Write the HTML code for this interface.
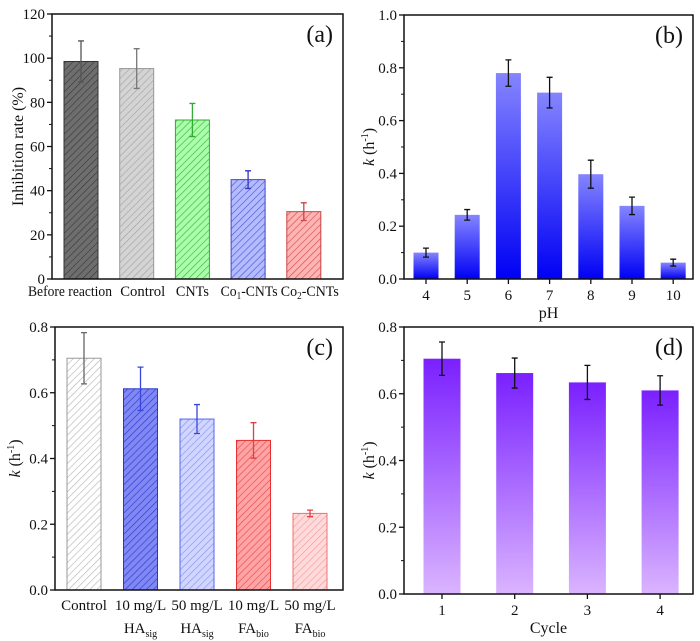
<!DOCTYPE html>
<html><head><meta charset="utf-8"><style>
body{margin:0;background:#fff;}
svg{display:block;}
svg text{font-family:"Liberation Serif","Times New Roman",serif;}
</style></head><body>
<svg id="fig" width="700" height="641" viewBox="0 0 700 641" font-family="Liberation Serif, serif">
<defs>
<linearGradient id="gb" x1="0" y1="0" x2="0" y2="1"><stop offset="0" stop-color="#8585ff"/><stop offset="1" stop-color="#0000f5"/></linearGradient>
<linearGradient id="gd" x1="0" y1="0" x2="0" y2="1"><stop offset="0" stop-color="#7a20ff"/><stop offset="1" stop-color="#dab4ff"/></linearGradient>
</defs>
</svg>
<script>
// Panel a
const aCats=["Before reaction","Control","CNTs","Co1-CNTs","Co2-CNTs"];
const aVals=[98.5,95.3,72,45,30.5];
const aErr=[9.3,9,7.5,4,4];
const aTicks=[0,20,40,60,80,100,120];
// Panel b
const bCats=["4","5","6","7","8","9","10"];
const bVals=[0.1,0.243,0.78,0.706,0.397,0.277,0.062];
const bErr=[0.017,0.02,0.05,0.058,0.053,0.033,0.013];
const bTicks=[0,0.2,0.4,0.6,0.8,1.0];
// Panel c
const cCats=["Control","10 mg/L|HA|sig","50 mg/L|HA|sig","10 mg/L|FA|bio","50 mg/L|FA|bio"];
const cVals=[0.705,0.612,0.52,0.455,0.233];
const cErr=[0.078,0.066,0.044,0.054,0.01];
const cTicks=[0,0.2,0.4,0.6,0.8];
// Panel d
const dCats=["1","2","3","4"];
const dVals=[0.705,0.662,0.634,0.61];
const dErr=[0.05,0.045,0.051,0.044];
const dTicks=[0,0.2,0.4,0.6,0.8];

const svg=document.getElementById('fig');
const NS="http://www.w3.org/2000/svg";
function mk(tag,attrs,parent){const e=document.createElementNS(NS,tag);for(const k in attrs)e.setAttribute(k,attrs[k]);(parent||svg).appendChild(e);return e;}
const defs=svg.querySelector('defs');
function hatch(id,bg,fg){const p=mk('pattern',{id:id,patternUnits:'userSpaceOnUse',width:5,height:5,patternTransform:'rotate(45)'},defs);mk('rect',{x:0,y:0,width:5,height:5,fill:bg},p);mk('line',{x1:0,y1:0,x2:0,y2:5,stroke:fg,'stroke-width':1.3},p);}
hatch('ha0','#6e6e6e','#3a3a3a');hatch('ha1','#d4d4d4','#a4a4a4');hatch('ha2','#aaffaa','#44b044');hatch('ha3','#b4bcff','#4a58d0');hatch('ha4','#ffb4b4','#d05050');
hatch('hc0','#ffffff','#b8b8b8');hatch('hc1','#8088f4','#3038d0');hatch('hc2','#d0d6ff','#8a94f0');hatch('hc3','#ffa4a4','#e44c4c');hatch('hc4','#ffdada','#f29a9a');

function panel(o){
  const g=mk('g',{});
  
  
  const {L,T,R,B,ymax}=o;
  const y=v=>B-(v/ymax)*(B-T);
  const x=i=>o.x0+i*o.dx;
  o.vals.forEach((v,i)=>{
    const r=mk('rect',{x:x(i)-o.bw/2,y:y(v),width:o.bw,height:B-y(v),fill:o.fill(i),stroke:o.stroke?o.stroke(i):'none','stroke-width':1},g);
    
    
    const ec=o.ecol?o.ecol(i):'#111';
    const e1=y(v+o.err[i]),e2=y(v-o.err[i]);
    const eb=mk('path',{d:`M${x(i)},${e1}V${e2}M${x(i)-3},${e1}H${x(i)+3}M${x(i)-3},${e2}H${x(i)+3}`,stroke:ec,'stroke-width':1.3,fill:'none'},g);
    
    
  });
  const f=mk('rect',{x:L,y:T,width:R-L,height:B-T,fill:'none',stroke:'#111','stroke-width':1.5},g);
  
  
  o.ticks.forEach((t,k)=>{
    mk('line',{x1:L-5,x2:L,y1:y(t),y2:y(t),stroke:'#111','stroke-width':1.3},g);
    if(k<o.ticks.length-1){const m=(t+o.ticks[k+1])/2;mk('line',{x1:L-3,x2:L,y1:y(m),y2:y(m),stroke:'#111','stroke-width':1},g);}
    const tx=mk('text',{x:L-7,y:y(t)+5,'text-anchor':'end','font-size':15,fill:'#111'},g);
    tx.textContent=o.fmt(t);
    
    
  });
  o.cats.forEach((c,i)=>{
    if(o.xticks) mk('line',{x1:x(i),x2:x(i),y1:B,y2:B+5,stroke:'#111','stroke-width':1.3},g);
    const parts=c.split('|');
    const off=o.lblOff?o.lblOff[i]:0;
    const at={x:x(i)+off,y:B+o.lblDy,'text-anchor':'middle','font-size':o.xfs||15,fill:'#111'};
    if(o.lblW){at.textLength=o.lblW[i];at.lengthAdjust='spacingAndGlyphs';}
    const tx=mk('text',at,g);
    
    
    if(parts.length===1){
      const m=c.match(/^Co(\d)-(.*)$/);
      if(m){tx.textContent='Co';const s=mk('tspan',{'font-size':10,dy:3},tx);s.textContent=m[1];const r=mk('tspan',{dy:-3},tx);r.textContent='-'+m[2];}
      else tx.textContent=c;
    } else {
      tx.textContent=parts[0];
      const t2=mk('text',{x:x(i),y:B+o.lblDy+23,'text-anchor':'middle','font-size':15,fill:'#111'},g);
      
      
      t2.textContent=parts[1];const s=mk('tspan',{'font-size':10,dy:4},t2);s.textContent=parts[2];
    }
  });
  const yt=mk('text',{transform:`translate(${o.ytx},${(T+B)/2}) rotate(-90)`,'text-anchor':'middle','font-size':16,fill:'#111'},g);
  
  
  if(o.ytitle){yt.textContent=o.ytitle;}
  else{const k=mk('tspan',{'font-style':'italic'},yt);k.textContent='k';const a=mk('tspan',{},yt);a.textContent=' (h';const s=mk('tspan',{'font-size':10,dy:-6},yt);s.textContent='-1';const b=mk('tspan',{dy:6},yt);b.textContent=')';}
  if(o.xtitle){const xt=mk('text',{x:(L+R)/2,y:o.xty,'text-anchor':'middle','font-size':16,fill:'#111'},g);xt.textContent=o.xtitle;}
  const pl=mk('text',{x:R-10,y:T+28,'text-anchor':'end','font-size':24,fill:'#111'},g);
  pl.textContent=o.label;
  
  
}
const aStroke=['#333','#999','#3a3','#44c','#c44'];
panel({name:'panel-a',L:52,T:14,R:343,B:279,ymax:120,cats:aCats,vals:aVals,err:aErr,ticks:aTicks,x0:81,dx:55.7,bw:34,xfs:15,
  lblOff:[-11,6,0,1,6],lblW:[84,45,33,57,58],
  fill:i=>'url(#ha'+i+')',stroke:i=>aStroke[i],ecol:i=>['#555','#777','#3a3','#33b','#c44'][i],fmt:t=>String(t),ytitle:'Inhibition rate (%)',ytx:23,label:'(a)',lblDy:17,xticks:false});
panel({name:'panel-b',L:404,T:15,R:693,B:279,ymax:1.0,cats:bCats,vals:bVals,err:bErr,ticks:bTicks,x0:426,dx:41.2,bw:25,
  fill:i=>'url(#gb)',fmt:t=>t.toFixed(1),ytx:374,xtitle:'pH',xty:318,label:'(b)',lblDy:21,xticks:true});
const cStroke=['#999','#2a35d0','#5a66ee','#e83030','#f07070'];
panel({name:'panel-c',L:55,T:327,R:343,B:590,ymax:0.8,cats:cCats,vals:cVals,err:cErr,ticks:cTicks,x0:84,dx:56.5,bw:34,
  fill:i=>'url(#hc'+i+')',stroke:i=>cStroke[i],ecol:i=>['#666','#3a45e0','#3a45e0','#e04040','#e04040'][i],fmt:t=>t.toFixed(1),ytx:20,label:'(c)',lblDy:20,xticks:false});
panel({name:'panel-d',L:404,T:327,R:693,B:594,ymax:0.8,cats:dCats,vals:dVals,err:dErr,ticks:dTicks,x0:442,dx:72.7,bw:37,
  fill:i=>'url(#gd)',fmt:t=>t.toFixed(1),ytx:374,xtitle:'Cycle',xty:633,label:'(d)',lblDy:21,xticks:true});
</script>
</body></html>
